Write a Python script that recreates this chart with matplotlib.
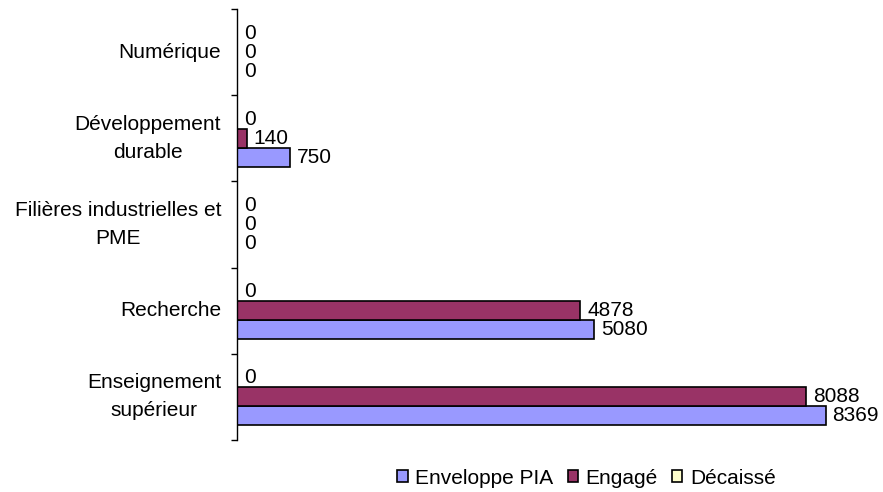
import numpy as np
import matplotlib.pyplot as plt

plt.rcParams['font.family'] = ['Liberation Sans', 'DejaVu Sans']

# Investment programme amounts by domain (bottom to top on the chart)
domaines = ["Enseignement\nsupérieur", "Recherche", "Filières industrielles et\nPME",
            "Développement\ndurable", "Numérique"]
enveloppe_pia = [8369, 5080, 0, 750, 0]
engage = [8088, 4878, 0, 140, 0]
decaisse = [0, 0, 0, 0, 0]

series = [
    ("Enveloppe PIA", enveloppe_pia, "#9999FF"),
    ("Engagé", engage, "#993366"),
    ("Décaissé", decaisse, "#FFFFCC"),
]

FS = 15

fig = plt.figure(figsize=(8.83, 4.92), dpi=100)
ax = fig.add_axes([0.2684, 0.1057, 0.7169, 0.876])

y = np.arange(len(domaines))
h = 0.22
offsets = [-h, 0, h]

for (name, vals, color), off in zip(series, offsets):
    bars = ax.barh(y + off, vals, height=h, color=color, edgecolor="black",
                   linewidth=1.2, label=name)
    ax.bar_label(bars, labels=[str(v) for v in vals], padding=5, fontsize=FS)

ax.set_xlim(0, 9000)
ax.set_ylim(-0.5, len(domaines) - 0.5)

# category names centred on each group, tick marks between groups
ax.set_yticks(y)
ax.set_yticklabels(domaines, fontsize=FS)
ax.tick_params(axis="y", which="major", length=0, pad=11.5)
for lbl in ax.get_yticklabels():
    lbl.set_multialignment("center")
    lbl.set_linespacing(1.6)
    lbl.set_verticalalignment("center")
ax.set_yticks(np.arange(-0.5, len(domaines)), minor=True)
ax.tick_params(axis="y", which="minor", length=4, width=1)

ax.set_xticks([])
for side in ["top", "right", "bottom"]:
    ax.spines[side].set_visible(False)
ax.spines["left"].set_linewidth(1)

fig.legend(loc="center", bbox_to_anchor=(0.664, 0.028), ncol=3, frameon=False,
           fontsize=FS, handlelength=0.5, handleheight=0.5,
           handletextpad=0.35, columnspacing=0.7)

fig.savefig("out.png", dpi=100)
